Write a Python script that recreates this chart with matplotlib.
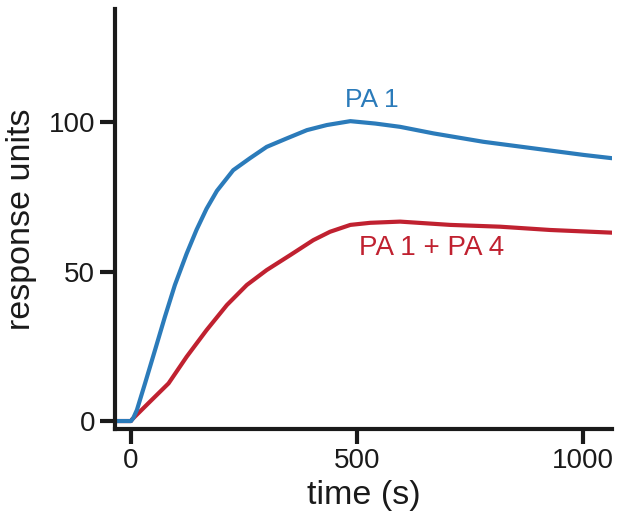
import numpy as np
import matplotlib
matplotlib.use("Agg")
import matplotlib.pyplot as plt

plt.rcParams['font.family'] = ['Liberation Sans', 'DejaVu Sans']

# PA 1 alone
t_pa1 = [-33, 0, 5, 13, 31, 53, 75, 97, 123, 145, 167, 190, 226, 263, 300,
         344, 389, 433, 485, 540, 595, 669, 779, 890, 1001, 1064]
ru_pa1 = [0, 0, 1.0, 3.7, 12.6, 23.7, 34.9, 45.5, 56.0, 64.0, 71.0, 77.0,
          83.9, 87.9, 91.7, 94.5, 97.3, 99.0, 100.3, 99.5, 98.4, 96.2, 93.4,
          91.2, 89.0, 87.9]

# PA 1 + PA 4
t_mix = [-33, 0, 2, 38, 83, 123, 167, 212, 256, 300, 352, 403, 440, 485,
         529, 595, 706, 816, 927, 1064]
ru_mix = [0, 0, 0.5, 5.9, 12.6, 21.5, 30.4, 38.8, 45.5, 50.5, 55.5, 60.5,
          63.3, 65.6, 66.3, 66.7, 65.6, 65.0, 63.9, 63.0]

blue = '#2b7bba'
red = '#c02130'

fig = plt.figure(figsize=(6.19, 5.31), dpi=100)
ax = fig.add_axes([0.185, 0.193, 0.804, 0.790])

ax.plot(t_mix, ru_mix, color=red, lw=3, solid_capstyle='butt')
ax.plot(t_pa1, ru_pa1, color=blue, lw=3, solid_capstyle='butt')

ax.text(533, 107.5, 'PA 1', color=blue, fontsize=19, ha='center', va='center')
ax.text(665, 58, 'PA 1 + PA 4', color=red, fontsize=20, ha='center', va='center')

ax.set_xlim(-36.5, 1064)
ax.set_ylim(-2.5, 137.8)
ax.set_xticks([0, 500, 1000])
ax.set_yticks([0, 50, 100])

for s in ['top', 'right']:
    ax.spines[s].set_visible(False)
for s in ['left', 'bottom']:
    ax.spines[s].set_linewidth(3)
    ax.spines[s].set_color('#1a1a1a')

ax.tick_params(width=3, length=11, pad=3, labelsize=20, colors='#1a1a1a')

ax.set_xlabel('time (s)', fontsize=24.5, color='#1a1a1a', labelpad=4)
ax.set_ylabel('response units', fontsize=24.5, color='#1a1a1a', labelpad=8)

fig.savefig('out.png', dpi=100)
